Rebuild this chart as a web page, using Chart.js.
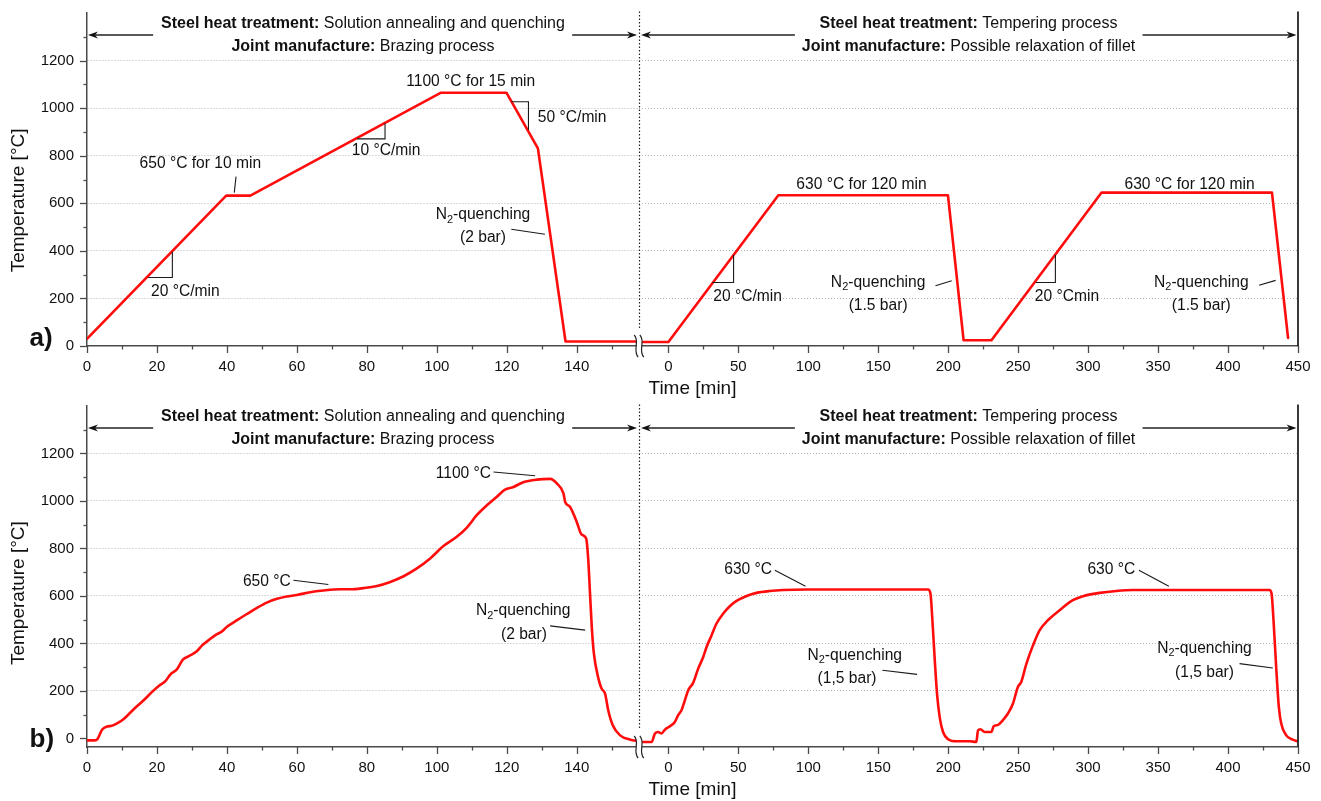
<!DOCTYPE html>
<html lang="en">
<head>
<meta charset="utf-8">
<title>Heat treatment and brazing cycle</title>
<script src="https://cdn.jsdelivr.net/npm/chart.js@4.4.1/dist/chart.umd.min.js"></script>
<style>
  html, body { margin: 0; padding: 0; background: #ffffff; }
  #figure { position: relative; width: 1321px; height: 801px; overflow: hidden; background: #ffffff; }
  #figure canvas { position: absolute; }
</style>
</head>
<body>
<div id="figure">
  <canvas id="aL" width="639" height="400" style="left:0px;top:0px"></canvas>
  <canvas id="aR" width="692" height="400" style="left:629px;top:0px"></canvas>
  <canvas id="bL" width="639" height="401" style="left:0px;top:400px"></canvas>
  <canvas id="bR" width="692" height="401" style="left:629px;top:400px"></canvas>
</div>
<script>
// ---------- data ----------
// a) programmed cycle, brazing part (time in min, temperature in °C)
const planTimeL = [0, 39.8, 46.7, 101.2, 119.9, 128.9, 136.8, 157.8];
const planTempL = [30, 632, 632, 1065, 1065, 831, 19, 19];
// a) programmed cycle, tempering part
const planTimeR = [-21, 0, 78.6, 199.8, 211.0, 230.9, 309.6, 431.4, 442.9];
const planTempR = [17, 17, 634, 634, 24, 24, 645, 645, 34];

// b) measured furnace temperature, brazing part
const measTimeL = [0, 1.9, 2.9, 4.3, 5.7, 7.1, 8.6, 10.5, 13.3, 16.2, 18.6, 20.5, 22.4, 23.8, 25.7, 27.4, 29.0,
  31.4, 32.9, 34.8, 36.7, 38.6, 40.0, 42.9, 45.7, 48.6, 51.4, 54.3, 57.1, 60.0, 63.8, 67.6, 72.4, 75.2, 79.0,
  82.9, 86.7, 90.5, 94.3, 98.1, 101.9, 105.7, 108.6, 111.4, 114.3, 117.1, 119.5, 121.9, 124.7, 128.6, 132.4,
  134.3, 136.2, 136.7, 138.1, 140.0, 141.4, 142.7, 143.3, 143.8, 144.3, 144.9, 146.2, 147.1, 148.1, 149.0,
  150.3, 152.4, 155.3, 157.8];
const measTempL = [-8, -8, -4, 37, 50, 53, 63, 82, 122, 161, 196, 221, 241, 269, 291, 332, 346,
  367, 392, 414, 435, 451, 470, 498, 524, 550, 572, 588, 598, 604, 616, 623, 628, 628, 633,
  642, 659, 683, 716, 758, 810, 849, 888, 940, 982, 1017, 1048, 1059, 1079, 1090, 1093,
  1074, 1032, 996, 975, 912, 859, 842, 751, 610, 470, 358, 252, 210, 189, 119,
  56, 13, -5, -11];
// b) measured furnace temperature, tempering part
const measTimeR = [-21, -12, -9.6, -7.3, -4.9, -2.5, 1.1, 4.6, 7.0, 9.4, 11.8, 14.2, 17.7, 21.3, 24.9, 27.3,
  30.9, 34.4, 39.2, 43.9, 48.7, 55.9, 63.0, 72.5, 82.0, 98.7, 185.6, 187.3, 188.7, 190.4, 192.0, 193.9,
  196.3, 199.9, 205.9, 215.4, 220.1, 221.3, 223.0, 226.1, 230.8, 232.5, 235.6, 239.1, 242.7, 246.3, 249.8,
  252.2, 255.9, 260.6, 265.4, 271.3, 279.6, 289.1, 296.3, 308.2, 320.1, 332.0, 429.6, 431.1, 432.5, 434.4,
  436.3, 438.0, 441.6, 446.3, 449.4];
const measTempR = [-15, -15, 21, 27, 21, 37, 51, 69, 98, 119, 161, 203, 234, 294, 343, 385,
  435, 484, 526, 557, 579, 600, 613, 621, 625, 627, 627, 610, 498, 329, 189, 90,
  27, -3, -12, -12, -15, 34, 39, 27, 27, 51, 57, 77, 105, 147, 217,
  238, 315, 392, 456, 498, 540, 582, 599, 613, 621, 625, 625, 610, 498, 301,
  133, 63, 13, -5, -11];

// axis ticks
const timeTicksL = [0, 20, 40, 60, 80, 100, 120, 140];
const timeTicksR = [0, 50, 100, 150, 200, 250, 300, 350, 400, 450];
const tempTicks = [0, 200, 400, 600, 800, 1000, 1200];

// slope triangles and leader lines, [time, temperature] vertices
const guidesAL = [
  [[17.5, 288], [24.4, 288], [24.4, 395]],
  [[77.2, 871], [85.2, 871], [85.2, 937]],
  [[121.3, 1027], [126.2, 1027], [126.2, 908]],
  [[42.6, 712], [42.1, 645]],
  [[121.3, 491], [130.9, 470]]
];
const guidesAR = [
  [[31.4, 267], [46.6, 267], [46.6, 383]],
  [[262.6, 267], [276.6, 267], [276.6, 383]],
  [[190.9, 253], [202.5, 274]],
  [[422.2, 255], [434.0, 276]]
];
const guidesBL = [
  [[59.0, 666], [69.0, 648]],
  [[116.2, 1122], [128.1, 1106]],
  [[132.4, 474], [142.4, 456]]
];
const guidesBR = [
  [[76.1, 708], [98.0, 641]],
  [[336.3, 708], [357.7, 641]],
  [[153.0, 287], [177.7, 270]],
  [[408.2, 315], [432.0, 297]]
];

// text annotations ("_2" marks a subscript 2)
const notesAL = [
  { x: 32.4, y: 766, t: '650 °C for 10 min' },
  { x: 109.7, y: 1111, t: '1100 °C for 15 min' },
  { x: 85.5, y: 822, t: '10 °C/min' },
  { x: 28.1, y: 227, t: '20 °C/min' },
  { x: 138.7, y: 958, t: '50 °C/min' },
  { x: 113.2, y: 551, t: 'N_2-quenching' },
  { x: 113.2, y: 454, t: '(2 bar)' }
];
const notesAR = [
  { x: 138.0, y: 680, t: '630 °C for 120 min' },
  { x: 372.5, y: 680, t: '630 °C for 120 min' },
  { x: 56.6, y: 208, t: '20 °C/min' },
  { x: 284.9, y: 208, t: '20 °Cmin' },
  { x: 149.9, y: 267, t: 'N_2-quenching' },
  { x: 149.9, y: 171, t: '(1.5 bar)' },
  { x: 380.9, y: 267, t: 'N_2-quenching' },
  { x: 380.9, y: 171, t: '(1.5 bar)' }
];
const notesBL = [
  { x: 51.4, y: 662, t: '650 °C' },
  { x: 107.6, y: 1116, t: '1100 °C' },
  { x: 124.7, y: 537, t: 'N_2-quenching' },
  { x: 124.9, y: 439, t: '(2 bar)' }
];
const notesBR = [
  { x: 57.0, y: 711, t: '630 °C' },
  { x: 316.6, y: 711, t: '630 °C' },
  { x: 133.2, y: 350, t: 'N_2-quenching' },
  { x: 127.7, y: 252, t: '(1,5 bar)' },
  { x: 383.2, y: 379, t: 'N_2-quenching' },
  { x: 383.2, y: 276, t: '(1,5 bar)' }
];

const headerL = ['Solution annealing and quenching', 'Brazing process'];
const headerR = ['Tempering process', 'Possible relaxation of fillet'];

// ---------- styling ----------
const FONT = "'Liberation Sans', Arial, Helvetica, sans-serif";
const RED = '#ff0d0d';
const INK = '#111111';
const AXIS = '#4a4a4a';
const GRID = '#b4b4b4';
Chart.defaults.font.family = FONT;
Chart.defaults.color = INK;

function drawRich(ctx, str, x, y, size, weight) {
  const parts = [];
  str.split(/(_\d)/).forEach(s => {
    if (!s) return;
    if (s[0] === '_') parts.push({ t: s.slice(1), sub: true });
    else parts.push({ t: s, sub: false });
  });
  const font = sub => `${weight || 'normal'} ${sub ? size * 0.7 : size}px ${FONT}`;
  let w = 0;
  parts.forEach(p => { ctx.font = font(p.sub); p.w = ctx.measureText(p.t).width; w += p.w; });
  let cx = x - w / 2;
  ctx.textAlign = 'left';
  ctx.textBaseline = 'middle';
  parts.forEach(p => {
    ctx.font = font(p.sub);
    ctx.fillText(p.t, cx, p.sub ? y + size * 0.3 : y);
    cx += p.w;
  });
}

function drawMixed(ctx, segs, cx, y, size) {
  let w = 0;
  segs.forEach(s => { ctx.font = `${s[1]} ${size}px ${FONT}`; s.w = ctx.measureText(s[0]).width; w += s.w; });
  let x = cx - w / 2;
  ctx.textAlign = 'left';
  ctx.textBaseline = 'middle';
  segs.forEach(s => { ctx.font = `${s[1]} ${size}px ${FONT}`; ctx.fillText(s[0], x, y); x += s.w; });
}

function drawArrow(ctx, xFrom, xTip, y) {
  const dir = Math.sign(xTip - xFrom);
  const head = 10, half = 3.6;
  ctx.beginPath();
  ctx.moveTo(xFrom, y);
  ctx.lineTo(xTip - dir * head * 0.7, y);
  ctx.stroke();
  ctx.beginPath();
  ctx.moveTo(xTip, y);
  ctx.lineTo(xTip - dir * head, y - half);
  ctx.lineTo(xTip - dir * head * 0.7, y);
  ctx.lineTo(xTip - dir * head, y + half);
  ctx.closePath();
  ctx.fill();
}

const decoPlugin = {
  id: 'deco',
  afterDraw(chart, args, o) {
    const ctx = chart.ctx, ca = chart.chartArea;
    const X = chart.scales.x, Y = chart.scales.y;
    const xp = v => X.getPixelForValue(v), yp = v => Y.getPixelForValue(v);
    ctx.save();

    // x tick marks (major and minor)
    ctx.strokeStyle = AXIS;
    ctx.lineWidth = 1.3;
    for (let i = 0; o.xStep * i <= o.xTo + 1e-6; i++) {
      const v = o.xStep * i;
      const x = Math.round(xp(v)) + 0.5;
      ctx.beginPath();
      ctx.moveTo(x, ca.bottom);
      ctx.lineTo(x, ca.bottom + (i % 2 === 0 ? 7 : 3.5));
      ctx.stroke();
    }

    if (o.side === 'L') {
      // y tick marks
      for (let v = 0; v <= 1300; v += 100) {
        const y = Math.round(yp(v)) + 0.5;
        ctx.beginPath();
        ctx.moveTo(ca.left, y);
        ctx.lineTo(ca.left - (v % 200 === 0 ? 7 : 3.5), y);
        ctx.stroke();
      }
      // y axis title
      ctx.save();
      ctx.translate(19, yp(612));
      ctx.rotate(-Math.PI / 2);
      ctx.fillStyle = INK;
      ctx.font = `19px ${FONT}`;
      ctx.textAlign = 'center';
      ctx.textBaseline = 'middle';
      ctx.fillText('Temperature [°C]', 0, 0);
      ctx.restore();
      // panel tag
      ctx.fillStyle = INK;
      ctx.font = `bold 26px ${FONT}`;
      ctx.textAlign = 'left';
      ctx.textBaseline = 'alphabetic';
      ctx.fillText(o.tag, 29.5, ca.bottom);
    } else {
      // right frame line
      ctx.strokeStyle = '#222';
      ctx.lineWidth = 1.8;
      ctx.beginPath();
      ctx.moveTo(ca.right, ca.top - 1.5);
      ctx.lineTo(ca.right, ca.bottom);
      ctx.stroke();
      // dotted separator between the two stages
      ctx.lineWidth = 1.2;
      ctx.setLineDash([1.5, 2]);
      ctx.beginPath();
      ctx.moveTo(ca.left + 0.5, ca.top - 1.5);
      ctx.lineTo(ca.left + 0.5, ca.bottom - 17);
      ctx.stroke();
      ctx.setLineDash([]);
      // axis break mark
      const bx = ca.left, by = ca.bottom, g = 2.8;
      ctx.fillStyle = '#ffffff';
      ctx.beginPath();
      ctx.moveTo(bx - g - 2, by - 11);
      ctx.bezierCurveTo(bx - g + 4, by - 5, bx - g - 4, by + 5, bx - g + 2, by + 11);
      ctx.lineTo(bx + g + 2, by + 11);
      ctx.bezierCurveTo(bx + g - 4, by + 5, bx + g + 4, by - 5, bx + g - 2, by - 11);
      ctx.closePath();
      ctx.fill();
      ctx.strokeStyle = '#222';
      ctx.lineWidth = 1.2;
      [-g, g].forEach(d => {
        ctx.beginPath();
        ctx.moveTo(bx + d - 2, by - 11);
        ctx.bezierCurveTo(bx + d + 4, by - 5, bx + d - 4, by + 5, bx + d + 2, by + 11);
        ctx.stroke();
      });
      // x axis title
      ctx.fillStyle = INK;
      ctx.font = `19px ${FONT}`;
      ctx.textAlign = 'left';
      ctx.textBaseline = 'middle';
      ctx.fillText('Time [min]', ca.left + 9.5, ca.bottom + 42.5);
    }

    // stage header with arrows
    ctx.fillStyle = INK;
    ctx.strokeStyle = '#222';
    ctx.lineWidth = 1.5;
    const cx = (ca.left + ca.right) / 2;
    drawMixed(ctx, [['Steel heat treatment:', 'bold'], [' ' + o.header[0], 'normal']], cx, ca.top + 10.3, 16);
    drawMixed(ctx, [['Joint manufacture:', 'bold'], [' ' + o.header[1], 'normal']], cx, ca.top + 33.7, 16);
    const ay = ca.top + 22;
    drawArrow(ctx, xp(o.arrows[0]), ca.left + (o.side === 'L' ? 1 : 2), ay);
    drawArrow(ctx, xp(o.arrows[1]), ca.right - (o.side === 'L' ? 2 : 1.5), ay);

    // annotations
    ctx.fillStyle = INK;
    o.notes.forEach(n => drawRich(ctx, n.t, xp(n.x), yp(n.y), 15.6));

    ctx.restore();
  }
};

function makeChart(id, cfg) {
  const L = cfg.side === 'L';
  const datasets = [];
  cfg.guides.forEach(g => datasets.push({
    data: g.map(p => ({ x: p[0], y: p[1] })),
    borderColor: '#1a1a1a', borderWidth: 1.1, pointRadius: 0, tension: 0, clip: false
  }));
  datasets.push({
    data: cfg.time.map((t, i) => ({ x: t, y: cfg.temp[i] })),
    borderColor: RED, borderWidth: 2.6, pointRadius: 0,
    tension: 0, cubicInterpolationMode: cfg.smooth ? 'monotone' : 'default',
    borderJoinStyle: 'round', borderCapStyle: 'round'
  });
  return new Chart(document.getElementById(id), {
    type: 'line',
    data: { datasets },
    options: {
      responsive: false,
      animation: false,
      events: [],
      layout: { padding: { top: cfg.padTop, bottom: 0, left: L ? 0 : 10, right: L ? 0 : 23 } },
      plugins: {
        legend: { display: false },
        tooltip: { enabled: false },
        deco: {
          side: cfg.side, tag: cfg.tag, header: cfg.header, arrows: cfg.arrows,
          notes: cfg.notes, xStep: cfg.xStep, xTo: cfg.xTo
        }
      },
      scales: {
        x: {
          type: 'linear', min: cfg.xMin, max: cfg.xMax,
          afterBuildTicks: s => { s.ticks = cfg.xTicks.map(v => ({ value: v })); },
          afterFit: s => { s.height = cfg.axisH; s.paddingLeft = 0; s.paddingRight = 0; },
          ticks: { autoSkip: false, maxRotation: 0, padding: 12, color: INK, font: { size: 15 },
                   callback: v => String(v) },
          grid: { display: false, drawTicks: false },
          border: { display: true, color: AXIS, width: 1.5 }
        },
        y: {
          type: 'linear', min: cfg.yMin, max: 1400,
          afterBuildTicks: s => { s.ticks = tempTicks.map(v => ({ value: v })); },
          afterFit: s => { s.width = L ? 87 : 0; s.paddingTop = 0; s.paddingBottom = 0; },
          ticks: { display: L, padding: 13, color: INK, font: { size: 15 }, callback: v => String(v) },
          grid: { drawTicks: false, lineWidth: 1,
                  color: c => (c.tick && c.tick.value > 0) ? GRID : 'rgba(0,0,0,0)' },
          border: { display: L, color: AXIS, width: 1.5, dash: [1, 2] }
        }
      }
    },
    plugins: [decoPlugin]
  });
}

const leftBase = { side: 'L', xMin: 0, xMax: 157.8, xTicks: timeTicksL, xStep: 10, xTo: 150,
                   header: headerL, arrows: [18.9, 138.7] };
const rightBase = { side: 'R', xMin: -21, xMax: 450, xTicks: timeTicksR, xStep: 25, xTo: 450,
                    header: headerR, arrows: [90.4, 338.9] };

makeChart('aL', Object.assign({}, leftBase, { tag: 'a)', padTop: 13, axisH: 54, yMin: 0,
  time: planTimeL, temp: planTempL, smooth: false, guides: guidesAL, notes: notesAL }));
makeChart('aR', Object.assign({}, rightBase, { padTop: 13, axisH: 54, yMin: 0,
  time: planTimeR, temp: planTempR, smooth: false, guides: guidesAR, notes: notesAR }));
makeChart('bL', Object.assign({}, leftBase, { tag: 'b)', padTop: 6, axisH: 54, yMin: -36,
  time: measTimeL, temp: measTempL, smooth: true, guides: guidesBL, notes: notesBL }));
makeChart('bR', Object.assign({}, rightBase, { padTop: 6, axisH: 54, yMin: -36,
  time: measTimeR, temp: measTempR, smooth: true, guides: guidesBR, notes: notesBR }));
</script>
</body>
</html>
